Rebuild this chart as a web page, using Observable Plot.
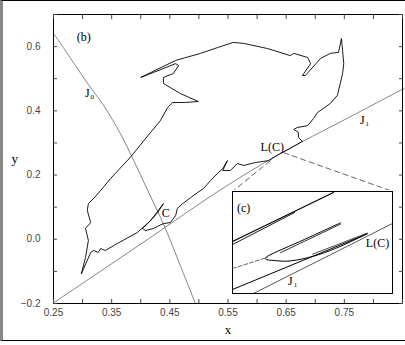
<!DOCTYPE html>
<html><head><meta charset="utf-8">
<script src="https://cdn.jsdelivr.net/npm/d3@7"></script>
<script src="https://cdn.jsdelivr.net/npm/@observablehq/plot@0.6"></script>
<style>
html,body{margin:0;padding:0;background:#fff;}
#wrap{position:relative;width:405px;height:345px;overflow:hidden;}
#frame{position:absolute;left:0;top:0;width:402px;height:339px;border-top:1px solid #000;border-left:3px solid #888;border-bottom:1px solid #000;}
#main{position:absolute;left:0;top:0;}
#inset{position:absolute;left:231px;top:190px;}
</style></head><body>
<div id="wrap"><div id="frame"></div><div id="main"></div><div id="inset"></div></div>
<script>
// ---- axis ticks ----
const xTickValues = [0.25,0.30,0.35,0.40,0.45,0.50,0.55,0.60,0.65,0.70,0.75,0.80,0.85];
const xTickLabels = ["0.25","","0.35","","0.45","","0.55","","0.65","","0.75","",""];
const yTickValues = [-0.2,-0.1,0.0,0.1,0.2,0.3,0.4,0.5,0.6,0.7];
const yTickLabels = ["\u22120.2","","0.0","","0.2","","0.4","","0.6",""];

// ---- critical curves ----
const j0Curve = [[0.25,0.641],[0.262,0.610],[0.310,0.482],[0.336,0.417],[0.365,0.329],[0.388,0.245],[0.412,0.152],[0.434,0.068],[0.451,-0.004],[0.468,-0.082],[0.494,-0.200]];
const j1Curve = [[0.25,-0.198],[0.40,-0.015],[0.538,0.155],[0.641,0.268],[0.75,0.372],[0.853,0.470]];

// ---- attractor (closed curve) ----
const attractor = [
 [0.298,-0.107],[0.314,-0.041],[0.319,-0.035],[0.327,-0.041],[0.331,-0.029],[0.339,-0.035],
 [0.360,-0.013],[0.394,0.021],[0.417,0.058],[0.439,0.111],[0.429,0.083],[0.412,0.049],
 [0.403,0.034],[0.408,0.027],[0.422,0.034],[0.439,0.049],[0.451,0.052],[0.460,0.074],
 [0.463,0.096],[0.472,0.111],[0.486,0.130],[0.498,0.146],[0.508,0.158],[0.520,0.183],
 [0.532,0.205],[0.541,0.220],[0.549,0.245],[0.541,0.214],[0.554,0.214],[0.566,0.236],
 [0.577,0.230],[0.597,0.239],[0.620,0.245],[0.637,0.264],[0.657,0.283],[0.678,0.305],
 [0.671,0.317],[0.671,0.333],[0.663,0.342],[0.669,0.348],[0.687,0.354],[0.697,0.376],
 [0.704,0.395],[0.726,0.423],[0.738,0.448],[0.743,0.485],[0.747,0.516],[0.749,0.547],
 [0.747,0.588],[0.745,0.625],[0.740,0.582],[0.726,0.579],[0.709,0.563],[0.683,0.510],
 [0.678,0.510],[0.692,0.547],[0.687,0.566],[0.663,0.579],[0.657,0.572],[0.618,0.594],
 [0.577,0.610],[0.559,0.613],[0.532,0.597],[0.503,0.579],[0.460,0.557],[0.400,0.504],
 [0.460,0.547],[0.465,0.541],[0.456,0.516],[0.439,0.504],[0.439,0.485],[0.468,0.454],
 [0.499,0.429],[0.477,0.426],[0.455,0.426],[0.446,0.410],[0.434,0.370],[0.417,0.333],
 [0.382,0.255],[0.348,0.189],[0.331,0.152],[0.319,0.127],[0.310,0.111],[0.308,0.090],
 [0.314,0.052],[0.305,0.034],[0.310,-0.004],[0.305,-0.057],[0.298,-0.107]
];

// ---- zoom indicator lines (to inset corners) ----
const zoomLinks = [
  {x1:0.623, y1:0.245, x2:0.558, y2:0.149},
  {x1:0.645, y1:0.270, x2:0.833, y2:0.149}
];

// ---- labels ----
const mainLabels = [
  {x:0.302, y:0.631, t:"(b)", w:"bold", sub:""},
  {x:0.308, y:0.456, t:"J", w:"normal", sub:"0"},
  {x:0.443, y:0.080, t:"C", w:"normal", sub:""},
  {x:0.626, y:0.286, t:"L(C)", w:"normal", sub:""},
  {x:0.781, y:0.372, t:"J", w:"normal", sub:"1"}
];

// ---- inset (c) data, in inset-local units ----
const insetA1 = [[0,0.51],[0.631,0.99]];
const insetA2 = [[0,0.48],[0.388,0.794]];
const insetHairpin = [[0.675,0.693],[0.45,0.53],[0.217,0.363],[0.205,0.345],[0.215,0.332],[0.258,0.324],[0.342,0.317],[0.467,0.350],[0.613,0.422],[0.842,0.585]];
const insetHairpin2 = [[0.675,0.680],[0.30,0.40]];
const insetHairpin3 = [[0.50,0.385],[0.842,0.592]];
const insetDashed = [[0,0.245],[0.217,0.353]];
const insetC = [[0,0.039],[0.842,0.585]];
const insetJ1 = [[0.131,0],[1,0.686]];
const insetLabels = [
  {x:0.069, y:0.833, t:"(c)", sub:""},
  {x:0.906, y:0.49, t:"L(C)", sub:""},
  {x:0.362, y:0.125, t:"J", sub:"1"}
];

const serif = "Liberation Serif, Times New Roman, serif";
const findLabel = (vals, labels) => d => { const i = vals.findIndex(v => Math.abs(v - d) < 1e-9); return i < 0 ? "" : labels[i]; };
const withSub = arr => arr.filter(d => d.sub !== "");

const main = Plot.plot({
  width: 405, height: 345,
  marginLeft: 53, marginRight: 3, marginTop: 14, marginBottom: 42,
  x: {domain: [0.25, 0.85], label: null},
  y: {domain: [-0.2, 0.7], label: null},
  style: {background: "transparent", fontFamily: "Liberation Sans, Arial, sans-serif", fontSize: "10px", color: "#444"},
  marks: [
    Plot.line(j0Curve, {x: d => d[0], y: d => d[1], stroke: "#777", strokeWidth: 0.9, curve: "catmull-rom"}),
    Plot.line(j1Curve, {x: d => d[0], y: d => d[1], stroke: "#777", strokeWidth: 0.9, curve: "catmull-rom"}),
    Plot.line(attractor, {x: d => d[0], y: d => d[1], stroke: "#000", strokeWidth: 0.9}),
    Plot.link(zoomLinks, {x1: "x1", y1: "y1", x2: "x2", y2: "y2", stroke: "#555", strokeWidth: 0.9, strokeDasharray: "6,3"}),
    Plot.text(mainLabels, {x: "x", y: "y", text: "t", fontFamily: serif, fontSize: 12, fontWeight: "w", fill: "#000"}),
    Plot.text(withSub(mainLabels), {x: "x", y: "y", text: "sub", dx: 5, dy: 4, fontFamily: serif, fontSize: 7, fill: "#000"}),
    Plot.frame({stroke: "#000"}),
    Plot.axisX({anchor: "bottom", ticks: xTickValues, tickSize: -4, tickPadding: 9, tickFormat: findLabel(xTickValues, xTickLabels), label: null}),
    Plot.axisX({anchor: "top", ticks: xTickValues, tickSize: -4, tickFormat: () => "", label: null}),
    Plot.axisY({anchor: "left", ticks: yTickValues, tickSize: -4, tickPadding: 17, tickFormat: findLabel(yTickValues, yTickLabels), label: null}),
    Plot.axisY({anchor: "right", ticks: yTickValues, tickSize: -4, tickFormat: () => "", label: null}),
    Plot.text(["x"], {frameAnchor: "bottom", dy: 30, fontFamily: serif, fontSize: 13, fill: "#000"}),
    Plot.text(["y"], {frameAnchor: "left", dx: -42, fontFamily: serif, fontSize: 13, fill: "#000"})
  ]
});
document.getElementById("main").appendChild(main);

const inset = Plot.plot({
  width: 162, height: 104,
  marginLeft: 1, marginRight: 1, marginTop: 1, marginBottom: 1,
  x: {domain: [0, 1], axis: null},
  y: {domain: [0, 1], axis: null},
  clip: true,
  style: {background: "#fff"},
  marks: [
    Plot.line(insetA1, {x: d => d[0], y: d => d[1], stroke: "#000", strokeWidth: 1.3}),
    Plot.line(insetA2, {x: d => d[0], y: d => d[1], stroke: "#000", strokeWidth: 0.9}),
    Plot.line(insetHairpin, {x: d => d[0], y: d => d[1], stroke: "#000", strokeWidth: 1, curve: "catmull-rom"}),
    Plot.line(insetHairpin2, {x: d => d[0], y: d => d[1], stroke: "#000", strokeWidth: 0.8}),
    Plot.line(insetHairpin3, {x: d => d[0], y: d => d[1], stroke: "#000", strokeWidth: 0.7}),
    Plot.line(insetDashed, {x: d => d[0], y: d => d[1], stroke: "#444", strokeWidth: 0.8, strokeDasharray: "4,2"}),
    Plot.line(insetC, {x: d => d[0], y: d => d[1], stroke: "#000", strokeWidth: 1}),
    Plot.line(insetJ1, {x: d => d[0], y: d => d[1], stroke: "#444", strokeWidth: 0.9}),
    Plot.text(insetLabels, {x: "x", y: "y", text: "t", fontFamily: serif, fontSize: 12, fill: "#000"}),
    Plot.text(withSub(insetLabels), {x: "x", y: "y", text: "sub", dx: 5, dy: 4, fontFamily: serif, fontSize: 7, fill: "#000"}),
    Plot.frame({stroke: "#000", strokeWidth: 1})
  ]
});
document.getElementById("inset").appendChild(inset);
</script>
</body></html>
